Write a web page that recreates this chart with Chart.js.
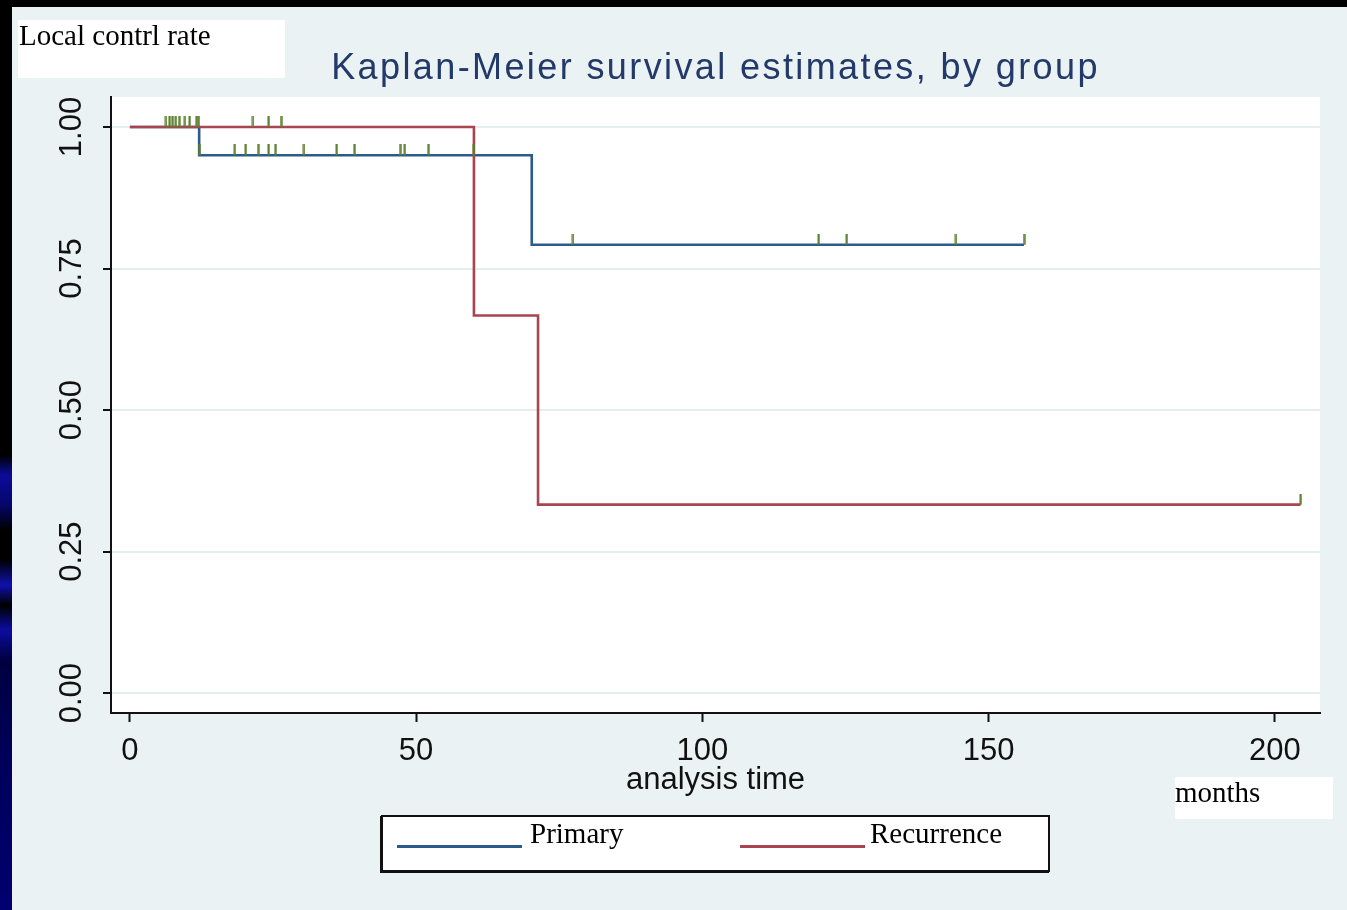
<!DOCTYPE html>
<html>
<head>
<meta charset="utf-8">
<script src="https://cdn.jsdelivr.net/npm/chart.js@4.4.1/dist/chart.umd.min.js"></script>
<style>
  html, body { margin:0; padding:0; width:1347px; height:910px; overflow:hidden; background:#000; }
  #bg { position:absolute; left:12px; top:7px; right:0; bottom:0; background:#eaf2f3; }
  #strip { position:absolute; left:0; top:0; width:12px; height:910px;
    background:linear-gradient(to bottom, #000 0px, #000 455px, #0b0b9a 475px, #06066a 505px, #000 530px, #000 560px, #1010b0 585px, #000 605px, #0c0ca0 630px, #000040 660px, #00005a 760px, #000070 910px); }
  #chart { position:absolute; left:0; top:0; }
  .wbox { position:absolute; background:#fff; }
  .serif { position:absolute; font-family:'Liberation Serif','Times New Roman',serif; font-size:29px; line-height:29px; color:#000; white-space:nowrap; }
  #legend { position:absolute; background:#fff; border:2px solid #111; box-shadow:-1px 1px 0 #111; }
  .lline { position:absolute; height:2.5px; }
</style>
</head>
<body>
<div id="bg"></div>
<div id="strip"></div>
<canvas id="chart" width="1347" height="910"></canvas>
<div class="wbox" style="left:18px;top:20px;width:267px;height:58px;"></div>
<div class="serif" style="left:19px;top:21px;">Local contrl rate</div>
<div class="wbox" style="left:1175px;top:777px;width:158px;height:42px;"></div>
<div class="serif" style="left:1175px;top:778px;">months</div>
<div id="legend" style="left:381px;top:815px;width:665px;height:53px;"></div>
<script>
// ---------------- data ----------------
const chartTitle = 'Kaplan-Meier survival estimates, by group';
const xAxisTitle = 'analysis time';
const xTickValues = [0, 50, 100, 150, 200];
const xTickLabels = ['0', '50', '100', '150', '200'];
const yTickValues = [0, 0.25, 0.5, 0.75, 1];
const yTickLabels = ['0.00', '0.25', '0.50', '0.75', '1.00'];
const groups = ['Primary', 'Recurrence'];

// Primary group: step times and survival after each step
const primaryTimes = [0, 12.1, 70.2];
const primarySurvival = [1, 0.95, 0.792];
const primaryLastFollowUp = 156.2;
const primaryCensorTimes = [6.3, 6.9, 7.4, 8.0, 8.6, 9.6, 10.4, 11.6, 12.1, 18.3, 20.2, 22.4, 24.2, 25.4,
  30.4, 36.1, 39.2, 47.2, 48.0, 52.1, 60.1, 77.4, 120.3, 125.2, 144.3, 156.2];

// Recurrence group
const recurrenceTimes = [0, 60.1, 71.3];
const recurrenceSurvival = [1, 0.667, 0.333];
const recurrenceLastFollowUp = 204.5;
const recurrenceCensorTimes = [12.0, 21.5, 24.2, 26.4, 204.5];

// ---------------- styles ----------------
const colors = { Primary: '#2b5b8b', Recurrence: '#a84550', censor: '#5a7f2c' };
const sansFamily = "'Liberation Sans', Arial, Helvetica, sans-serif";

function survivalAt(times, surv, t) {
  let s = surv[0];
  for (let i = 0; i < times.length; i++) if (t >= times[i]) s = surv[i];
  return s;
}
function stepLine(times, surv, last) {
  const pts = times.map((t, i) => ({ x: t, y: surv[i] }));
  pts.push({ x: last, y: surv[surv.length - 1] });
  return pts;
}
function censorPoints(ct, times, surv) {
  return ct.map(t => ({ x: t, y: survivalAt(times, surv, t) }));
}
function makeTick(color) {
  const c = document.createElement('canvas');
  c.width = 3; c.height = 22;
  const g = c.getContext('2d');
  g.fillStyle = color;
  g.fillRect(0.5, 0, 2.2, 11);
  return c;
}
const tickImg = makeTick(colors.censor);

const plotBg = {
  id: 'plotBg',
  beforeDraw(chart) {
    const { ctx, chartArea: a } = chart;
    ctx.save();
    ctx.fillStyle = '#ffffff';
    ctx.fillRect(a.left, a.top, a.right - a.left, a.bottom - a.top);
    ctx.restore();
  }
};
const titleSpacing = {
  id: 'titleSpacing',
  beforeDraw(chart) {
    const tb = chart.titleBlock;
    if (tb && !tb.__wrapped) {
      const orig = tb.draw.bind(tb);
      tb.draw = function (area) {
        const c = chart.ctx;
        c.save();
        try { c.letterSpacing = '2.4px'; } catch (e) {}
        orig(area);
        c.restore();
      };
      tb.__wrapped = true;
    }
  }
};

const datasets = [
  { label: 'Primary censored', data: censorPoints(primaryCensorTimes, primaryTimes, primarySurvival),
    showLine: false, pointStyle: tickImg, pointRadius: 3, pointHoverRadius: 3, order: 0 },
  { label: 'Recurrence censored', data: censorPoints(recurrenceCensorTimes, recurrenceTimes, recurrenceSurvival),
    showLine: false, pointStyle: tickImg, pointRadius: 3, pointHoverRadius: 3, order: 0 },
  { label: 'Recurrence', data: stepLine(recurrenceTimes, recurrenceSurvival, recurrenceLastFollowUp),
    stepped: true, borderColor: colors.Recurrence, borderWidth: 2.6, pointRadius: 0, fill: false, order: 1 },
  { label: 'Primary', data: stepLine(primaryTimes, primarySurvival, primaryLastFollowUp),
    stepped: true, borderColor: colors.Primary, borderWidth: 2.6, pointRadius: 0, fill: false, order: 2 }
];

const chart = new Chart(document.getElementById('chart').getContext('2d'), {
  type: 'line',
  data: { datasets },
  options: {
    responsive: false,
    animation: false,
    devicePixelRatio: 1,
    layout: { padding: { left: 0, right: 27, top: 0, bottom: 111 } },
    scales: {
      x: {
        type: 'linear', min: -3.3, max: 207.9,
        afterFit(s) { s.height = 86; },
        afterBuildTicks(s) { s.ticks = xTickValues.map(v => ({ value: v })); },
        ticks: { callback: (v, i) => xTickLabels[i], autoSkip: false, maxRotation: 0,
          font: { family: sansFamily, size: 31 }, color: '#111', padding: 11 },
        grid: { drawOnChartArea: false, drawTicks: true, tickLength: 9, tickColor: '#111', tickWidth: 2 },
        border: { display: true, color: '#111', width: 2 },
        title: { display: true, text: xAxisTitle, color: '#111',
          font: { family: sansFamily, size: 31 }, padding: { top: 0, bottom: 0 } }
      },
      y: {
        type: 'linear', min: -0.035, max: 1.053,
        afterFit(s) { s.width = 111; },
        afterBuildTicks(s) { s.ticks = yTickValues.map(v => ({ value: v })); },
        ticks: { callback: (v, i) => yTickLabels[i], autoSkip: false, minRotation: 90, maxRotation: 90,
          crossAlign: 'center', font: { family: sansFamily, size: 31 }, color: '#111', padding: 0 },
        grid: { color: '#e4edef', lineWidth: 2, tickLength: 8, tickColor: '#111', tickWidth: 2 },
        border: { display: true, color: '#111', width: 2 }
      }
    },
    plugins: {
      legend: { display: false },
      tooltip: { enabled: false },
      title: { display: true, text: chartTitle, fullSize: false, color: '#22396a',
        font: { family: sansFamily, size: 36, weight: 'normal' },
        padding: { top: 47.4, bottom: 6.4 } }
    }
  },
  plugins: [plotBg, titleSpacing]
});

// HTML legend built from the line datasets
const legendLayout = { lineLen: 125, lineTop: 28, textTop: 2, items: [{ lineX: 14, textX: 147 }, { lineX: 357, textX: 487 }] };
const legendEl = document.getElementById('legend');
groups.forEach((g, i) => {
  const ds = chart.data.datasets.find(d => d.label === g);
  const pos = legendLayout.items[i];
  const ln = document.createElement('div');
  ln.className = 'lline';
  ln.style.left = pos.lineX + 'px';
  ln.style.top = legendLayout.lineTop + 'px';
  ln.style.width = legendLayout.lineLen + 'px';
  ln.style.background = ds.borderColor;
  legendEl.appendChild(ln);
  const tx = document.createElement('div');
  tx.className = 'serif';
  tx.style.left = pos.textX + 'px';
  tx.style.top = legendLayout.textTop + 'px';
  tx.textContent = ds.label;
  legendEl.appendChild(tx);
});
</script>
</body>
</html>
